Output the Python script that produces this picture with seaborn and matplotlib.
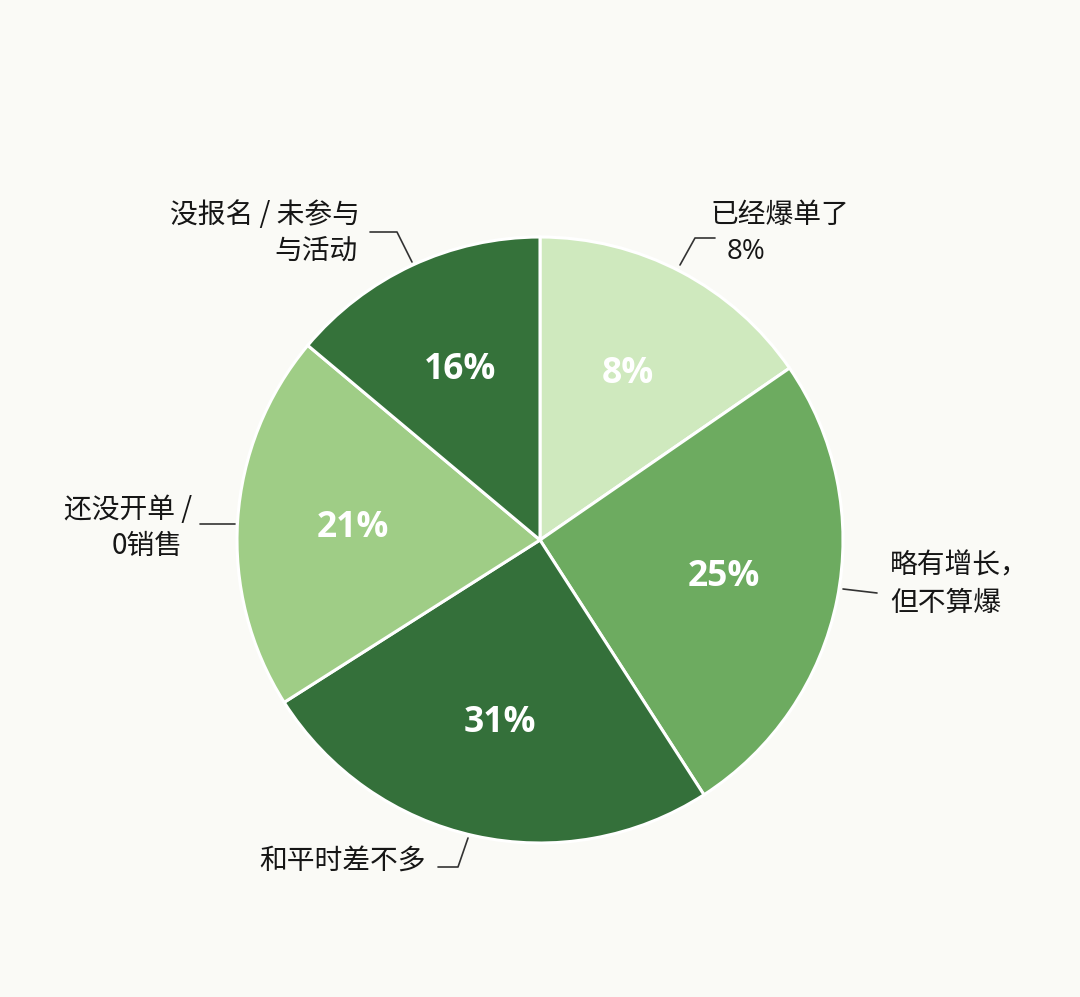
import matplotlib
matplotlib.use('Agg')
import matplotlib.pyplot as plt
import seaborn as sns
import numpy as np

# slice shares as drawn in the picture (angles), and the printed percent labels
categories = ['已经爆单了', '略有增长，但不算爆', '和平时差不多', '还没开单 / 0销售', '没报名 / 未参与与活动']
shares = [15.4, 25.5, 25.1, 20.1, 13.9]
pct_labels = ['8%', '25%', '31%', '21%', '16%']
colors = ['#cfe9be', '#6dab60', '#34703a', '#9fcd86', '#35723a']

sns.set_theme(style='white')
plt.rcParams['font.family'] = ['Noto Sans CJK SC', 'DejaVu Sans']

bg = '#fafaf6'
fig = plt.figure(figsize=(10.8, 9.97), dpi=100, facecolor=bg)
ax = fig.add_axes([0, 0, 1, 1])
ax.set_facecolor(bg)

wedges, texts = ax.pie(shares, colors=colors, startangle=90, counterclock=False,
                       radius=1.0, wedgeprops=dict(edgecolor='white', linewidth=2.2))

# percent labels inside each slice
for w, lab in zip(wedges, pct_labels):
    ang = np.deg2rad((w.theta1 + w.theta2) / 2)
    ax.text(0.62 * np.cos(ang), 0.62 * np.sin(ang), lab, ha='center', va='center',
            color='white', fontsize=25.5, fontweight='bold', family=['Open Sans', 'DejaVu Sans'])

# convert picture pixels to data units (centre 540,540, radius 303 px)
def P(px, py):
    return (px - 540) / 303, (540 - py) / 303

txt = dict(fontsize=20, color='#161616', va='center', fontweight='medium')
line = dict(color='#333333', linewidth=1.2)

# 没报名 / 未参与 与活动
ax.text(*P(360, 215), '没报名 / 未参与', ha='right', **txt)
ax.text(*P(358, 251), '与活动', ha='right', **txt)
xs, ys = zip(P(370, 232), P(397, 232), P(412, 262))
ax.plot(xs, ys, **line)

# 已经爆单了 8%
ax.text(*P(710, 215), '已经爆单了', ha='left', **txt)
ax.text(*P(727, 252), '8%', ha='left', fontsize=20, color='#161616', va='center',
        family=['Open Sans', 'DejaVu Sans'])
xs, ys = zip(P(680, 265), P(695, 238), P(715, 238))
ax.plot(xs, ys, **line)

# 略有增长，但不算爆
ax.text(*P(890, 565), '略有增长，', ha='left', **txt)
ax.text(*P(890, 603), '但不算爆', ha='left', **txt)
xs, ys = zip(P(843, 589), P(877, 593))
ax.plot(xs, ys, **line)

# 还没开单 / 0销售
ax.text(*P(192, 510), '还没开单 /', ha='right', **txt)
ax.text(*P(183, 546), '0销售', ha='right', **txt)
xs, ys = zip(P(200, 524), P(235, 524))
ax.plot(xs, ys, **line)

# 和平时差不多
ax.text(*P(426, 862), '和平时差不多', ha='right', **txt)
xs, ys = zip(P(438, 867), P(458, 867), P(468, 838))
ax.plot(xs, ys, **line)

ax.set_xlim(-540 / 303, 540 / 303)
ax.set_ylim(-457 / 303, 540 / 303)
ax.set_aspect('auto')
ax.axis('off')

fig.savefig('out.png', dpi=100, facecolor=bg)
